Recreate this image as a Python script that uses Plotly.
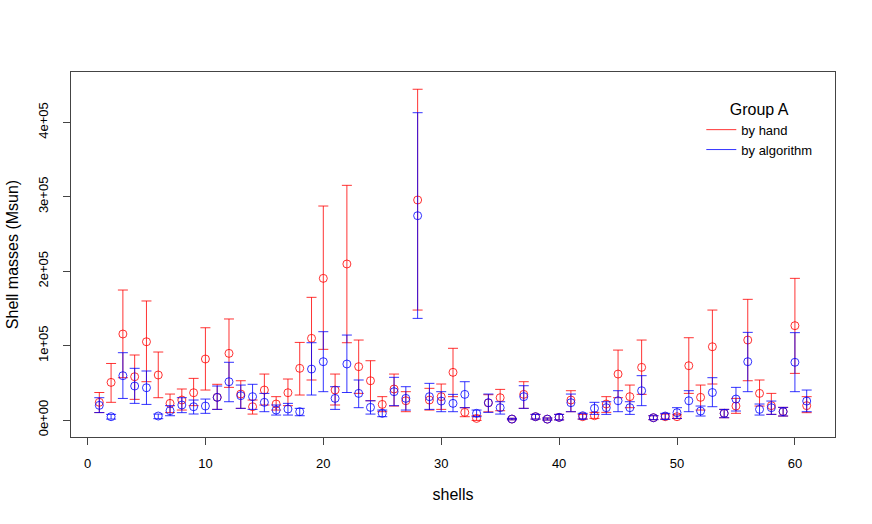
import plotly.graph_objects as go

# shell number
shells = list(range(1, 62))

# by hand: mass, upper end, lower end (units of 1e3 Msun)
hand = [23.8, 50.6, 115.6, 58.2, 105.2, 60.5, 22.4, 26.9, 36.7, 82.0,
        30.5, 89.6, 34.9, 17.9, 40.3, 21.5, 36.7, 69.5, 109.8, 190.4,
        40.3, 209.7, 71.7, 52.8, 21.0, 41.7, 25.9, 295.7, 26.9, 31.4,
        64.1, 10.3, 2.2, 23.0, 30.0, 1.3, 34.5, 4.5, 1.2, 3.6,
        26.9, 4.5, 5.8, 21.5, 61.8, 31.4, 70.8, 3.1, 4.5, 4.5,
        73.0, 30.5, 98.5, 9.0, 18.8, 107.5, 35.8, 19.3, 11.5, 126.8,
        19.3]
hand_hi = [37.0, 76.0, 174.7, 87.4, 160.0, 91.4, 34.9, 41.7, 56.0, 124.0,
           48.0, 135.8, 52.8, 26.9, 61.8, 31.4, 55.1, 104.3, 164.9, 287.6,
           61.8, 315.4, 107.5, 79.7, 31.4, 61.8, 38.1, 444.5, 42.6, 48.4,
           96.4, 16.6, 5.8, 34.0, 41.2, 2.3, 51.5, 7.6, 2.7, 7.6,
           39.4, 7.6, 10.3, 31.4, 94.0, 47.0, 107.5, 5.8, 8.0, 7.0,
           110.6, 47.0, 147.8, 14.3, 29.1, 162.2, 53.8, 35.8, 17.0, 190.4,
           31.4]
hand_lo = [10.0, 23.8, 56.9, 27.8, 51.5, 30.0, 10.0, 13.4, 19.3, 40.3,
           14.3, 43.9, 15.7, 8.0, 20.2, 13.4, 19.3, 33.6, 53.8, 95.0,
           20.2, 103.9, 35.8, 25.9, 11.2, 18.8, 11.2, 147.8, 13.4, 14.3,
           31.4, 4.5, -0.5, 11.0, 12.5, 0.3, 15.7, 1.3, 0.0, 0.2,
           11.2, 1.3, 2.2, 10.3, 30.0, 16.6, 34.5, 0.5, 1.3, 2.0,
           35.8, 13.4, 48.4, 3.1, 9.0, 52.8, 18.8, 7.6, 5.4, 62.7,
           9.9]

# by algorithm
algo = [19.7, 4.5, 59.6, 45.7, 43.4, 5.4, 12.5, 20.2, 17.9, 18.8,
        30.5, 51.5, 32.7, 31.4, 23.8, 13.4, 14.8, 11.2, 68.5, 78.4,
        29.1, 75.3, 35.8, 17.0, 9.0, 38.1, 29.1, 274.6, 31.4, 25.5,
        22.4, 34.5, 9.0, 23.3, 16.6, 1.3, 31.4, 4.5, 1.2, 3.6,
        23.3, 5.8, 15.7, 16.6, 25.9, 16.6, 39.4, 3.1, 5.4, 9.9,
        25.9, 12.1, 37.0, 9.0, 28.2, 78.4, 14.3, 16.6, 11.2, 77.6,
        25.5]
algo_hi = [30.0, 7.6, 90.5, 69.5, 65.9, 8.0, 19.3, 30.0, 26.9, 28.2,
           45.7, 77.6, 47.0, 48.0, 35.8, 20.2, 22.4, 15.7, 103.9, 118.7,
           44.8, 114.2, 53.8, 25.9, 13.4, 57.4, 44.8, 413.0, 49.3, 38.1,
           34.5, 51.5, 13.4, 34.9, 24.6, 2.3, 46.1, 7.6, 2.7, 7.6,
           34.9, 9.0, 23.8, 24.6, 39.4, 24.6, 59.6, 5.8, 9.0, 16.6,
           39.4, 18.8, 56.9, 14.3, 43.9, 117.8, 21.5, 25.5, 17.0, 117.4,
           40.3]
algo_lo = [10.0, 1.3, 29.0, 22.4, 21.0, 1.8, 5.8, 9.9, 8.1, 9.0,
           14.3, 24.6, 15.7, 14.3, 11.2, 6.7, 6.7, 5.8, 33.6, 38.1,
           14.3, 37.0, 16.6, 8.0, 4.5, 19.3, 13.4, 136.6, 14.3, 11.2,
           11.2, 16.6, 4.5, 10.3, 8.0, 0.3, 15.7, 1.3, 0.0, 0.2,
           11.2, 1.3, 7.6, 7.6, 11.2, 7.6, 19.3, 0.5, 0.9, 2.2,
           11.2, 5.4, 17.9, 3.1, 12.1, 38.1, 6.7, 7.6, 5.4, 38.1,
           11.2]

ytick_vals = [0, 100000, 200000, 300000, 400000]
ytick_text = ["0e+00", "1e+05", "2e+05", "3e+05", "4e+05"]

K = 1000.0
fig = go.Figure()

for name, v, hi, lo, col in [("by hand", hand, hand_hi, hand_lo, "rgba(255,0,0,0.8)"),
                             ("by algorithm", algo, algo_hi, algo_lo, "rgba(0,0,255,0.8)")]:
    y = [a * K for a in v]
    up = [(h - a) * K for a, h in zip(v, hi)]
    dn = [(a - l) * K for a, l in zip(v, lo)]
    fig.add_trace(go.Scatter(
        x=shells, y=y, mode="markers", showlegend=False,
        marker=dict(symbol="circle-open", size=8, color=col, line=dict(width=1, color=col)),
        error_y=dict(type="data", symmetric=False, array=up, arrayminus=dn,
                     color=col, thickness=1, width=5)))
    # legend entry drawn as a line, like R's legend(lty=1)
    fig.add_trace(go.Scatter(x=[None], y=[None], mode="lines", name=name,
                             line=dict(color=col, width=1)))

fig.update_layout(
    width=872, height=524,
    margin=dict(l=71, r=37, t=72, b=87),
    paper_bgcolor="white", plot_bgcolor="white",
    font=dict(family="Liberation Sans, Arial, sans-serif", size=13, color="black"),
    legend=dict(x=0.825, y=0.94, xanchor="left", yanchor="top",
                bgcolor="rgba(0,0,0,0)", font=dict(size=13),
                title=dict(text="Group A", side="top center"),
                tracegroupgap=0),
)
fig.update_xaxes(range=[-1.4, 63.4], tickvals=[0, 10, 20, 30, 40, 50, 60],
                 ticks="outside", ticklen=7, tickcolor="#444",
                 ticklabelstandoff=7, automargin=False,
                 showline=True, mirror=True, linecolor="#444", linewidth=1,
                 showgrid=False, zeroline=False,
                 title=dict(text="shells", standoff=19))
fig.update_yaxes(range=[-22800, 467700], tickvals=ytick_vals, ticktext=ytick_text,
                 tickangle=-90, ticks="outside", ticklen=7, tickcolor="#444",
                 ticklabelstandoff=10, automargin=False,
                 showline=True, mirror=True, linecolor="#444", linewidth=1,
                 showgrid=False, zeroline=False,
                 title=dict(text="Shell masses (Msun)", standoff=13))

# page body margin would shift the chart by 8px
fig.write_html("out.html", config={"displayModeBar": False},
               post_script="document.body.style.margin='0';")
